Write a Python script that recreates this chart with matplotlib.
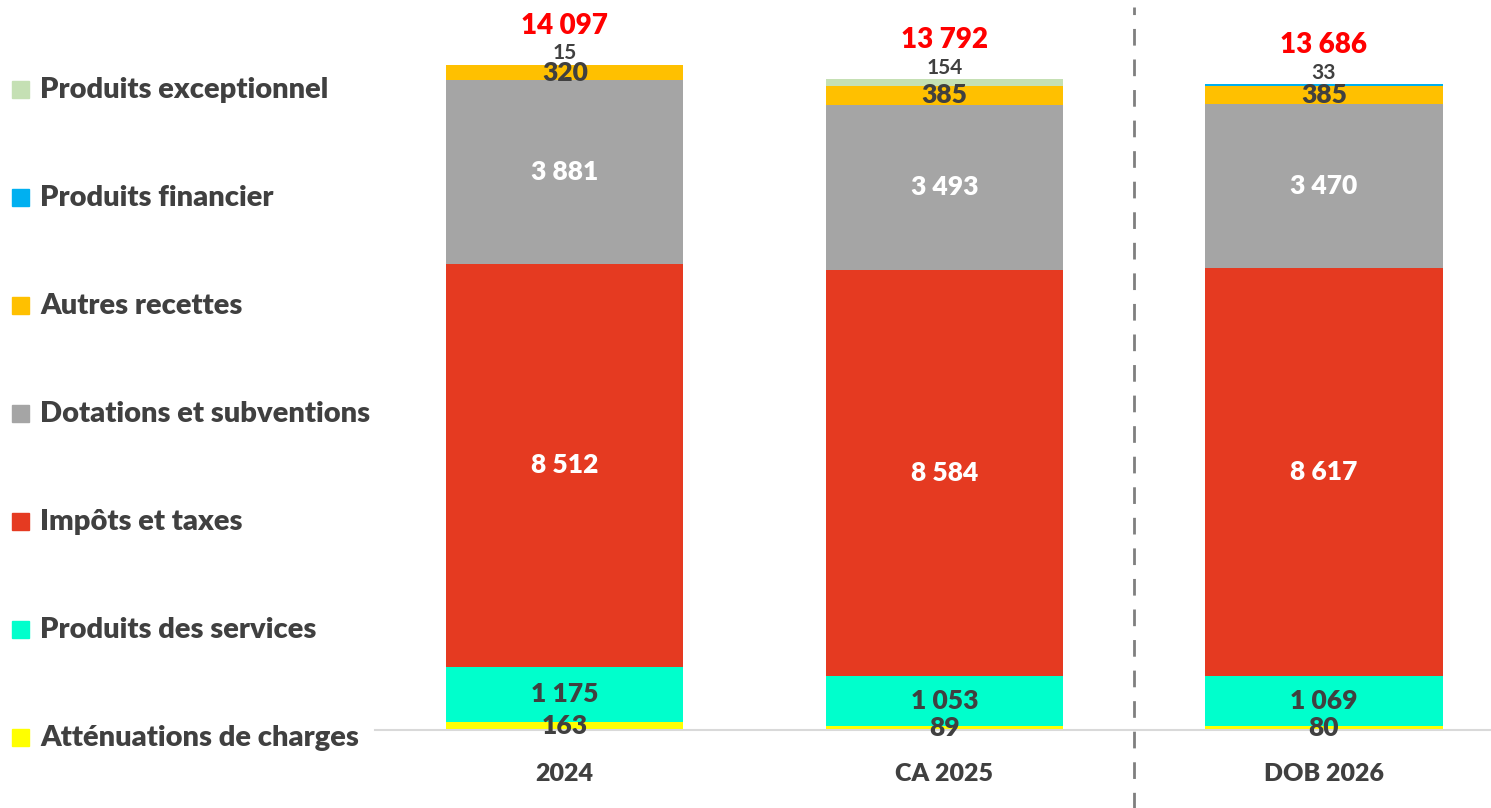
import matplotlib.pyplot as plt
from matplotlib.patches import Rectangle

plt.rcParams['font.family'] = ['Lato', 'DejaVu Sans']
plt.rcParams['font.weight'] = 'bold'

years = ['2024', 'CA 2025', 'DOB 2026']
attenuations = [163, 89, 80]
services = [1175, 1053, 1069]
impots = [8512, 8584, 8617]
dotations = [3881, 3493, 3470]
autres = [320, 385, 385]
financier = [0, 8, 33]
exceptionnel = [15, 154, 0]
totals = [14097, 13792, 13686]

series = [
    ('Atténuations de charges', attenuations, '#FFFF00', '#404040'),
    ('Produits des services', services, '#00FFCC', '#404040'),
    ('Impôts et taxes', impots, '#E53A21', 'white'),
    ('Dotations et subventions', dotations, '#A5A5A5', 'white'),
    ('Autres recettes', autres, '#FFC000', '#404040'),
    ('Produits financier', financier, '#00B0F0', '#404040'),
    ('Produits exceptionnel', exceptionnel, '#C5E0B4', '#404040'),
]


def fmt(v):
    return f'{v:,}'.replace(',', ' ')


fig = plt.figure(figsize=(14.91, 8.08), dpi=100)
ax = fig.add_axes([375 / 1491, 78 / 808, 1 - 375 / 1491, 730 / 808])

x = range(len(years))
bottom = [0, 0, 0]
for name, vals, color, tcol in series:
    ax.bar(x, vals, bottom=bottom, width=0.625, color=color, edgecolor='none')
    for i, v in enumerate(vals):
        if name in ('Produits financier', 'Produits exceptionnel'):
            # petits montants : étiquette au-dessus de la barre
            if v >= 10:
                top = sum(s[1][i] for s in series)
                ax.annotate(fmt(v), (i, top), xytext=(0, 8), textcoords='offset points',
                            ha='center', va='center', fontsize=15, color=tcol)
        else:
            ax.text(i, bottom[i] + v / 2, fmt(v), ha='center', va='center',
                    fontsize=19, color=tcol, fontweight='heavy')
    bottom = [b + v for b, v in zip(bottom, vals)]

for i, t in enumerate(totals):
    ax.annotate(fmt(t), (i, bottom[i]), xytext=(0, 28), textcoords='offset points',
                ha='center', va='center', fontsize=20, color='#FF0000', fontweight='heavy')

ax.set_xlim(-0.5, 2.44)
ax.set_ylim(0, 15430)
ax.set_xticks(list(x))
ax.set_xticklabels(years, fontsize=18, color='#404040', fontweight='heavy')
ax.tick_params(axis='x', length=0, pad=24)
ax.set_yticks([])
for s in ['top', 'right', 'left']:
    ax.spines[s].set_visible(False)
ax.spines['bottom'].set_color('#D9D9D9')
ax.spines['bottom'].set_linewidth(1.5)

# séparateur pointillé entre réalisé et prévisionnel
ax.axvline(1.5, ymin=-0.11, ymax=0.99, color='#7F7F7F', linestyle=(0, (6, 5)),
           linewidth=2, clip_on=False)

# légende à gauche
for k, (name, vals, color, tcol) in enumerate(reversed(series)):
    y = 1 - (90 + 108 * k) / 808
    fig.patches.append(Rectangle((12 / 1491, y - 8 / 808), 17 / 1491, 17 / 808,
                                 transform=fig.transFigure, color=color))
    fig.text(40 / 1491, y, name, fontsize=21, color='#404040', va='center',
             fontweight='heavy')

fig.savefig('out.png', dpi=100)
